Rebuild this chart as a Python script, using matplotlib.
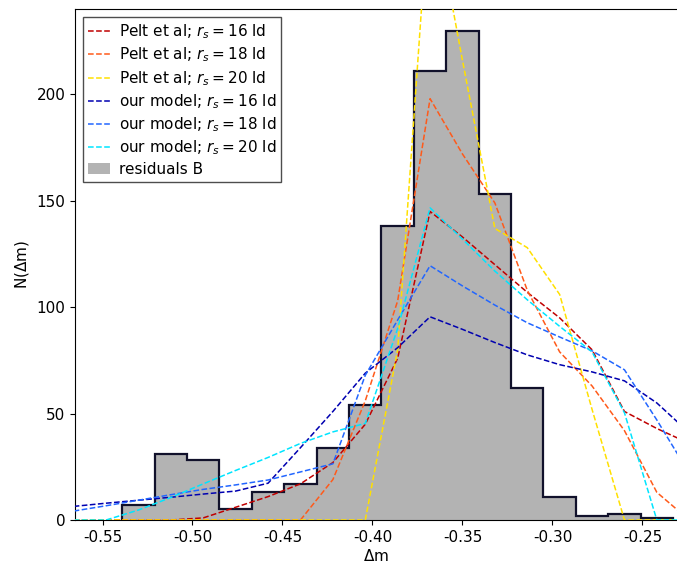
import numpy as np
import matplotlib
matplotlib.use('Agg')
import matplotlib.pyplot as plt

# histogram of the residuals (bin edges in delta m, counts per bin)
bin_edges = [-0.539, -0.521, -0.503, -0.485, -0.467, -0.449, -0.431, -0.413, -0.395,
             -0.377, -0.359, -0.341, -0.323, -0.305, -0.287, -0.269, -0.251, -0.233]
counts = [7, 31, 28, 5, 13, 17, 34, 54, 138, 211, 230, 153, 62, 11, 2, 3, 1]

# model curves, sampled at the bin centres
model_dm = [-0.566, -0.548, -0.530, -0.512, -0.494, -0.476, -0.458, -0.440, -0.422, -0.404,
            -0.386, -0.368, -0.350, -0.332, -0.314, -0.296, -0.278, -0.260, -0.242, -0.224]
pelt_16 = [0, 0, 0, 0, 1, 6, 11, 17, 27, 45, 76, 145, 133, 120, 107, 95, 80, 51, 43, 36]
pelt_18 = [0, 0, 0, 0, 0, 0, 0, 0, 19, 56, 103, 198, 172, 149, 108, 79, 63, 42, 13, 0]
pelt_20 = [0, 0, 0, 0, 0, 0, 0, 0, 0, 0, 80, 298, 216, 137, 128, 106, 52, 0, 0, 0]
ours_16 = [6.4, 7.9, 9.3, 10.7, 12.2, 13.6, 17.3, 34, 51, 69, 81, 95.5, 89.6, 83.4, 77.6,
           73, 69.6, 65.4, 55, 41]
ours_18 = [4.2, 6.7, 9.3, 11.9, 14.4, 16.5, 18.8, 22.6, 26.4, 68, 94, 119.5, 110, 101, 92.7,
           86, 79.5, 70.6, 47, 22]
ours_20 = [0, 0, 4.7, 10.6, 17, 23.3, 29.4, 36, 41.4, 45.4, 90, 146.7, 132, 117, 103.5,
           91, 79, 50.4, 0, 0]

xticks = [-0.55, -0.50, -0.45, -0.40, -0.35, -0.30, -0.25]
yticks = [0, 50, 100, 150, 200]

plt.rcParams['font.size'] = 11

fig = plt.figure(figsize=(6.77, 5.64), dpi=100)
ax = fig.add_axes([0.111, 0.078, 0.889, 0.9055])

ax.stairs(counts, bin_edges, fill=True, color='0.7', label='residuals B', zorder=1)
ax.stairs(counts, bin_edges, color='#11112b', lw=1.6, zorder=2)

curves = [
    (pelt_16, '#c00000', r'Pelt et al; $r_s=16$ ld'),
    (pelt_18, '#ff5a1a', r'Pelt et al; $r_s=18$ ld'),
    (pelt_20, '#ffe000', r'Pelt et al; $r_s=20$ ld'),
    (ours_16, '#0000b0', r'our model; $r_s=16$ ld'),
    (ours_18, '#2266ff', r'our model; $r_s=18$ ld'),
    (ours_20, '#00e5ff', r'our model; $r_s=20$ ld'),
]
for vals, col, lab in curves:
    ax.plot(model_dm, vals, ls='--', color=col, lw=1.1, label=lab, zorder=3)

ax.set_xlim(-0.5652, -0.2308)
ax.set_ylim(0, 240)
ax.set_xticks(xticks)
ax.set_yticks(yticks)
ax.set_xticklabels(['%.2f' % t for t in xticks])
ax.spines['right'].set_visible(False)
ax.set_xlabel(r'$\Delta$m', labelpad=2)
ax.set_ylabel(r'N($\Delta$m)')

handles, labels = ax.get_legend_handles_labels()
order = [1, 2, 3, 4, 5, 6, 0]
leg = ax.legend([handles[i] for i in order], [labels[i] for i in order],
                loc='upper left', fancybox=False, framealpha=1, edgecolor='0.3',
                handlelength=1.4, handletextpad=0.6, labelspacing=0.3,
                borderpad=0.35)

fig.savefig('out.png', dpi=100)
